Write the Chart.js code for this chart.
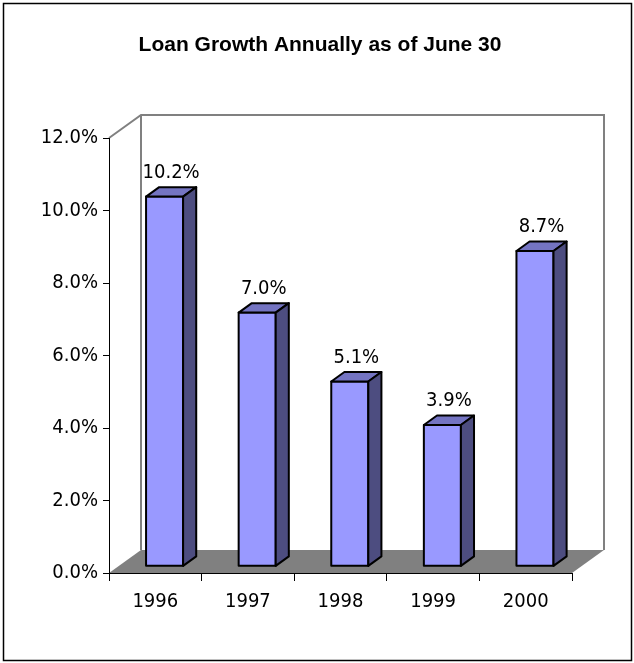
<!DOCTYPE html>
<html>
<head>
<meta charset="utf-8">
<title>Loan Growth Annually as of June 30</title>
<script src="https://cdn.jsdelivr.net/npm/chart.js@4.4.1/dist/chart.umd.min.js"></script>
<style>
    body { margin: 0; background: #fff; }
    canvas { display: block; }
</style>
</head>
<body>
<canvas id="loanChart" width="634" height="663"></canvas>
<script>
const years = ['1996', '1997', '1998', '1999', '2000'];
const loanGrowth = [10.2, 7.0, 5.1, 3.9, 8.7];
const yAxisMax = 12;
const yAxisStep = 2;
const chartTitle = 'Loan Growth Annually as of June 30';

const labelFont = '"DejaVu Sans Condensed", "DejaVu Sans", sans-serif';

// offset of the back wall from the front plane
const depthX = 32;
const depthY = -23;
// part of that depth taken by the bars
const barFront = 0.29;
const barBack = 0.70;

function drawFace(ctx, points, color) {
    ctx.beginPath();
    ctx.moveTo(points[0][0], points[0][1]);
    for (let i = 1; i < points.length; i++) {
        ctx.lineTo(points[i][0], points[i][1]);
    }
    ctx.closePath();
    ctx.fillStyle = color;
    ctx.fill();
    ctx.stroke();
}

const box3d = {
    id: 'box3d',
    beforeDraw(chart) {
        const ctx = chart.ctx;
        const area = chart.chartArea;
        ctx.save();

        ctx.fillStyle = '#000';
        ctx.font = 'bold 21px "Liberation Sans", Arial, sans-serif';
        ctx.textAlign = 'center';
        ctx.textBaseline = 'middle';
        ctx.fillText(chartTitle, 320, 45);

        // floor
        ctx.fillStyle = '#808080';
        ctx.beginPath();
        ctx.moveTo(area.left, area.bottom);
        ctx.lineTo(area.right, area.bottom);
        ctx.lineTo(area.right + depthX, area.bottom + depthY);
        ctx.lineTo(area.left + depthX, area.bottom + depthY);
        ctx.closePath();
        ctx.fill();

        // back wall outline
        ctx.strokeStyle = '#808080';
        ctx.lineWidth = 2;
        ctx.beginPath();
        ctx.moveTo(area.left, area.top);
        ctx.lineTo(area.left + depthX, area.top + depthY);
        ctx.lineTo(area.right + depthX, area.top + depthY);
        ctx.lineTo(area.right + depthX, area.bottom + depthY);
        ctx.moveTo(area.left + depthX, area.top + depthY);
        ctx.lineTo(area.left + depthX, area.bottom + depthY);
        ctx.stroke();

        // frame around the whole chart
        ctx.strokeStyle = '#000';
        ctx.lineWidth = 1.5;
        ctx.strokeRect(3.5, 3.5, 628, 657);
        ctx.restore();
    },
    afterDatasetsDraw(chart) {
        const ctx = chart.ctx;
        const meta = chart.getDatasetMeta(0);
        const fx = depthX * barFront;
        const fy = depthY * barFront;
        const sx = depthX * (barBack - barFront);
        const sy = depthY * (barBack - barFront);

        ctx.save();
        ctx.strokeStyle = '#000';
        ctx.lineWidth = 2;
        ctx.lineJoin = 'round';
        meta.data.forEach((bar, i) => {
            const p = bar.getProps(['x', 'y', 'base', 'width'], true);
            const left = p.x - p.width / 2 + fx;
            const right = p.x + p.width / 2 + fx;
            const top = p.y + fy;
            const bottom = p.base + fy;

            drawFace(ctx, [[left, top], [right, top], [right, bottom], [left, bottom]], '#9999ff');
            drawFace(ctx, [[left, top], [left + sx, top + sy], [right + sx, top + sy], [right, top]], '#7474c2');
            drawFace(ctx, [[right, top], [right + sx, top + sy], [right + sx, bottom + sy], [right, bottom]], '#4d4d80');

            ctx.fillStyle = '#000';
            ctx.font = '20px ' + labelFont;
            ctx.textAlign = 'center';
            ctx.textBaseline = 'alphabetic';
            ctx.fillText(loanGrowth[i].toFixed(1) + '%', (left + right + sx) / 2, top + sy - 9.5);
        });
        ctx.restore();
    }
};

new Chart(document.getElementById('loanChart'), {
    type: 'bar',
    data: {
        labels: years,
        datasets: [{
            data: loanGrowth,
            backgroundColor: 'rgba(0,0,0,0)',
            borderWidth: 0,
            barPercentage: 0.4,
            categoryPercentage: 1
        }]
    },
    options: {
        responsive: false,
        animation: false,
        layout: {
            padding: { top: 138, right: 62, bottom: 0, left: 0 }
        },
        plugins: {
            legend: { display: false },
            tooltip: { enabled: false }
        },
        scales: {
            x: {
                grid: {
                    offset: true,
                    drawOnChartArea: false,
                    tickLength: 8,
                    color: '#000'
                },
                border: { color: '#000', width: 1 },
                ticks: {
                    color: '#000',
                    font: { family: labelFont, size: 20 },
                    padding: 9
                },
                afterFit(scale) { scale.height = 90; }
            },
            y: {
                min: 0,
                max: yAxisMax,
                ticks: {
                    stepSize: yAxisStep,
                    callback: v => v.toFixed(1) + '%',
                    color: '#000',
                    font: { family: labelFont, size: 20 },
                    padding: 5
                },
                grid: {
                    drawOnChartArea: false,
                    tickLength: 6,
                    color: '#000'
                },
                border: { color: '#000', width: 1 },
                afterFit(scale) { scale.width = 109; }
            }
        }
    },
    plugins: [box3d]
});
</script>
</body>
</html>
